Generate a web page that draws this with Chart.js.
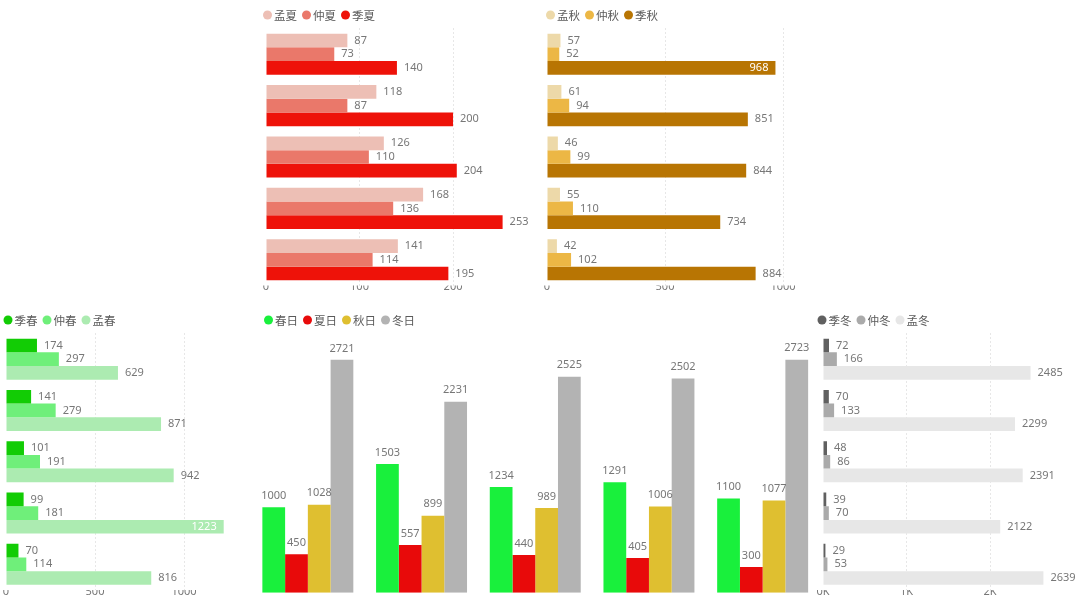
<!DOCTYPE html>
<html>
<head>
<meta charset="utf-8">
<script src="https://cdn.jsdelivr.net/npm/chart.js@4.4.0/dist/chart.umd.min.js"></script>
<style>
html, body { margin: 0; padding: 0; background: #fff; }
#wrap { position: relative; width: 1080px; height: 607px; overflow: hidden; }
canvas { position: absolute; }
</style>
</head>
<body>
<div id="wrap">
  <canvas id="summer" width="285" height="300" style="left:255px;top:0px"></canvas>
  <canvas id="autumn" width="260" height="300" style="left:537px;top:0px"></canvas>
  <canvas id="spring" width="245" height="300" style="left:0px;top:305px"></canvas>
  <canvas id="days" width="585" height="302" style="left:245px;top:305px"></canvas>
  <canvas id="winter" width="270" height="300" style="left:810px;top:305px"></canvas>
</div>
<script>
const groups = ['1', '2', '3', '4', '5']

// 夏
const summerNames = ['孟夏', '仲夏', '季夏']
const mengXia = [87, 118, 126, 168, 141]
const zhongXia = [73, 87, 110, 136, 114]
const jiXia = [140, 200, 204, 253, 195]
const summerTicks = [0, 100, 200]

// 秋
const autumnNames = ['孟秋', '仲秋', '季秋']
const mengQiu = [57, 61, 46, 55, 42]
const zhongQiu = [52, 94, 99, 110, 102]
const jiQiu = [968, 851, 844, 734, 884]
const autumnTicks = [0, 500, 1000]

// 春
const springNames = ['季春', '仲春', '孟春']
const jiChun = [174, 141, 101, 99, 70]
const zhongChun = [297, 279, 191, 181, 114]
const mengChun = [629, 871, 942, 1223, 816]
const springTicks = [0, 500, 1000]

// 冬
const winterNames = ['季冬', '仲冬', '孟冬']
const jiDong = [72, 70, 48, 39, 29]
const zhongDong = [166, 133, 86, 70, 53]
const mengDong = [2485, 2299, 2391, 2122, 2639]
const winterTicks = [0, 1000, 2000]
const winterTickLabels = ['0K', '1K', '2K']

// 四季日
const dayNames = ['春日', '夏日', '秋日', '冬日']
const chunRi = [1000, 1503, 1234, 1291, 1100]
const xiaRi = [450, 557, 440, 405, 300]
const qiuRi = [1028, 899, 989, 1006, 1077]
const dongRi = [2721, 2231, 2525, 2502, 2723]

const numFont = '11px "Noto Sans", "Noto Sans CJK SC", sans-serif'
const textGray = '#777'

// little dot legend, power bi style
const dotLegend = {
    id: 'dotLegend',
    afterDraw(chart, args, opts) {
        const ctx = chart.ctx
        let x = opts.x
        ctx.save()
        ctx.font = '11.5px "Noto Sans CJK SC", sans-serif'
        ctx.textBaseline = 'middle'
        ctx.textAlign = 'left'
        chart.data.datasets.forEach(ds => {
            ctx.fillStyle = ds.backgroundColor
            ctx.beginPath()
            ctx.arc(x + 4.5, opts.y, 4.5, 0, Math.PI * 2)
            ctx.fill()
            ctx.fillStyle = '#5a5a5a'
            ctx.fillText(ds.label, x + 11, opts.y + 0.5)
            x += 11 + ctx.measureText(ds.label).width + 5
        })
        ctx.restore()
    }
}

// values at the end of each bar
const valueLabels = {
    id: 'valueLabels',
    afterDatasetsDraw(chart) {
        const ctx = chart.ctx
        const horizontal = chart.options.indexAxis === 'y'
        ctx.save()
        ctx.font = numFont
        chart.data.datasets.forEach((ds, i) => {
            chart.getDatasetMeta(i).data.forEach((bar, j) => {
                const text = String(ds.data[j])
                const w = ctx.measureText(text).width
                ctx.textBaseline = 'middle'
                if (horizontal) {
                    if (bar.x + 7 + w > chart.width) {
                        // no room on the right, put it inside
                        ctx.fillStyle = '#fff'
                        ctx.textAlign = 'right'
                        ctx.fillText(text, bar.x - 7, bar.y)
                    } else {
                        ctx.fillStyle = textGray
                        ctx.textAlign = 'left'
                        ctx.fillText(text, bar.x + 7, bar.y)
                    }
                } else {
                    ctx.textAlign = 'center'
                    ctx.fillStyle = textGray
                    ctx.fillText(text, bar.x, bar.y - 11.5)
                }
            })
        })
        ctx.restore()
    }
}

const hbar = (id, names, series, colors, max, tickValues, fmt, pad, legendX) => {
    return new Chart(document.getElementById(id), {
        type: 'bar',
        data: {
            labels: groups,
            datasets: series.map((d, i) => ({
                label: names[i],
                data: d,
                backgroundColor: colors[i],
                borderWidth: 0,
                barPercentage: 1,
                categoryPercentage: 0.8
            }))
        },
        options: {
            indexAxis: 'y',
            responsive: false,
            animation: false,
            layout: { padding: pad },
            scales: {
                y: { display: false },
                x: {
                    min: 0,
                    max: max,
                    border: { display: false, dash: [1, 3] },
                    grid: {
                        drawTicks: false,
                        color: c => c.tick && c.tick.value === 0 ? 'rgba(0,0,0,0)' : '#cfcfcf'
                    },
                    ticks: {
                        padding: -5,
                        color: textGray,
                        font: { size: 11, family: '"Noto Sans", sans-serif' },
                        callback: fmt
                    },
                    afterBuildTicks: s => { s.ticks = tickValues.map(v => ({ value: v })) },
                    afterFit: s => { s.height = 14 }
                }
            },
            plugins: {
                legend: { display: false },
                tooltip: { enabled: false },
                dotLegend: { x: legendX, y: 15 }
            }
        },
        plugins: [dotLegend, valueLabels]
    })
}

const plain = v => v

hbar('summer', summerNames, [mengXia, zhongXia, jiXia],
    ['#EDBFB5', '#EA786A', '#EE1209'], 270, summerTicks, plain,
    { left: 11, right: 21.5, top: 28.5, bottom: 0.5 }, 8)

hbar('autumn', autumnNames, [mengQiu, zhongQiu, jiQiu],
    ['#EDD9A9', '#ECB745', '#B87503'], 1000, autumnTicks, plain,
    { left: 10, right: 14, top: 28.5, bottom: 0.5 }, 9)

hbar('spring', springNames, [jiChun, zhongChun, mengChun],
    ['#12CC05', '#6FEF7A', '#ACEBB1'], 1250, springTicks, plain,
    { left: 6, right: 16.5, top: 28.5, bottom: 1 }, 3.5)

hbar('winter', winterNames, [jiDong, zhongDong, mengDong],
    ['#606060', '#AAAAAA', '#E7E7E7'], 2700, winterTicks,
    (v, i) => winterTickLabels[i],
    { left: 13, right: 31.5, top: 28.5, bottom: 1 }, 7.5)

new Chart(document.getElementById('days'), {
    type: 'bar',
    data: {
        labels: groups,
        datasets: [
            { label: dayNames[0], data: chunRi, backgroundColor: '#19F03C' },
            { label: dayNames[1], data: xiaRi, backgroundColor: '#E80A0A' },
            { label: dayNames[2], data: qiuRi, backgroundColor: '#DFBF30' },
            { label: dayNames[3], data: dongRi, backgroundColor: '#B3B3B3' }
        ].map(d => Object.assign(d, { borderWidth: 0, barPercentage: 1, categoryPercentage: 0.8 }))
    },
    options: {
        responsive: false,
        animation: false,
        layout: { padding: { left: 6, right: 10.5, top: 31, bottom: 14.3 } },
        scales: {
            x: { display: false },
            y: { display: false, min: 0, max: 3000 }
        },
        plugins: {
            legend: { display: false },
            tooltip: { enabled: false },
            dotLegend: { x: 19, y: 15 }
        }
    },
    plugins: [dotLegend, valueLabels]
})
</script>
</body>
</html>
